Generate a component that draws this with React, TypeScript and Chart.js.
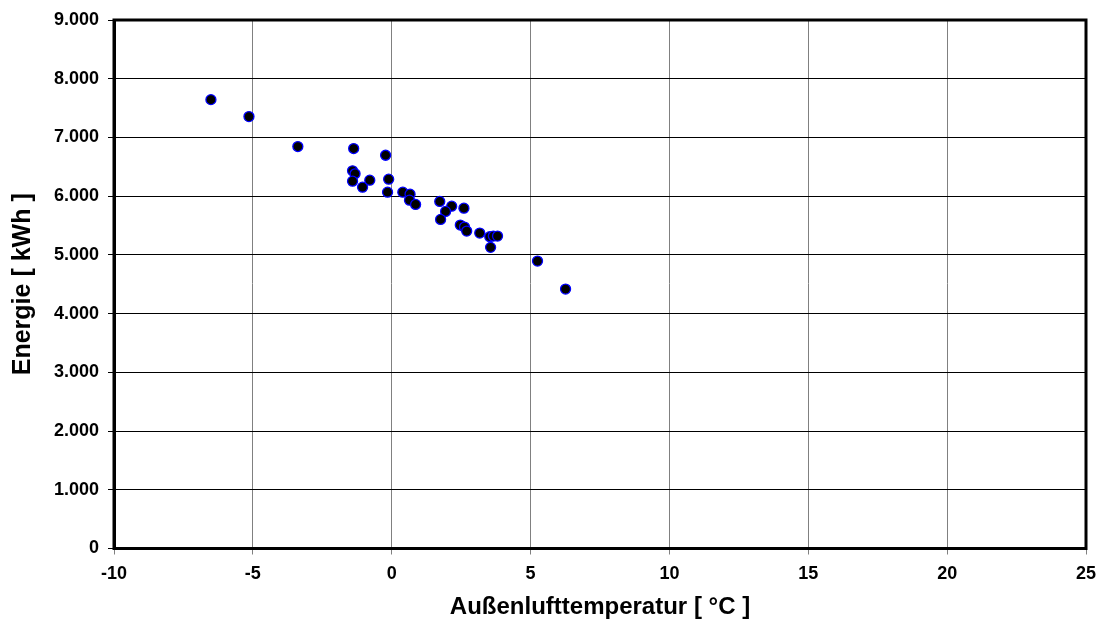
import React, { useEffect, useRef } from "react";
import { Chart, registerables } from "chart.js";

Chart.register(...registerables);

const temperatures = [
  -6.51, -5.14, -3.38, -1.37, -0.22, -1.41, -1.32, -1.41, -0.79, -1.05, -0.11,
  -0.15, 0.4, 0.66, 0.64, 0.86, 1.73, 2.16, 2.6, 1.94, 1.76, 2.47, 2.62, 2.7,
  3.17, 3.53, 3.66, 3.81, 3.56, 5.25, 6.26,
];
const energies = [
  7644, 7355, 6845, 6811, 6697, 6432, 6381, 6255, 6272, 6153, 6289, 6068, 6068,
  6034, 5932, 5859, 5910, 5830, 5796, 5740, 5604, 5507, 5473, 5405, 5371, 5310,
  5320, 5320, 5128, 4894, 4418,
];
const xTitle = "Außenlufttemperatur [ °C ]";
const yTitle = "Energie [ kWh ]";

const fmt = (v: number) => {
  const s = String(Math.round(v));
  return s.replace(/\B(?=(\d{3})+(?!\d))/g, ".");
};

const frame = {
  id: "frame",
  beforeDatasetsDraw(chart: any) {
    const { ctx, chartArea } = chart;
    ctx.save();
    ctx.strokeStyle = "#000";
    ctx.lineWidth = 3;
    ctx.strokeRect(
      chartArea.left,
      chartArea.top,
      chartArea.right - chartArea.left,
      chartArea.bottom - chartArea.top
    );
    ctx.restore();
  },
};

export default function App() {
  const ref = useRef<HTMLCanvasElement>(null);
  useEffect(() => {
    document.body.style.margin = "0";
    const font = "'Liberation Sans', Arial, sans-serif";
    const chart = new Chart(ref.current!, {
      type: "scatter",
      data: {
        datasets: [
          {
            data: temperatures.map((t, i) => ({ x: t, y: energies[i] })),
            backgroundColor: "#000",
            borderColor: "#0000ff",
            borderWidth: 1.3,
            pointRadius: 5,
          },
        ],
      },
      options: {
        animation: false,
        responsive: true,
        maintainAspectRatio: false,
        layout: { padding: { left: 0, right: 15, top: 20, bottom: 0 } },
        plugins: { legend: { display: false }, tooltip: { enabled: false } },
        scales: {
          x: {
            type: "linear",
            min: -10,
            max: 25,
            afterFit: (s: any) => {
              s.height = 626 - 548.5;
              s.paddingRight = 0;
              s.paddingLeft = 0;
            },
            ticks: {
              stepSize: 5,
              color: "#000",
              padding: 9,
              font: { family: font, size: 18, weight: "bold" },
            },
            grid: { color: "#808080", lineWidth: 1, tickLength: 6 },
            border: { display: true, color: "#000", width: 3 },
            title: {
              display: true,
              text: xTitle,
              color: "#000",
              font: { family: font, size: 24, weight: "bold", lineHeight: 1.2 },
              padding: { top: 0, bottom: 4 },
            },
          },
          y: {
            type: "linear",
            min: 0,
            max: 9000,
            afterFit: (s: any) => {
              s.width = 114;
              s.paddingTop = 0;
              s.paddingBottom = 0;
            },
            ticks: {
              stepSize: 1000,
              color: "#000",
              padding: 9,
              callback: (v: any) => fmt(Number(v)),
              font: { family: font, size: 18, weight: "bold" },
            },
            grid: { color: "#000", lineWidth: 1, tickLength: 6 },
            border: { display: true, color: "#000", width: 3 },
            title: {
              display: true,
              text: yTitle,
              color: "#000",
              font: { family: font, size: 25, weight: "bold", lineHeight: 1.2 },
              padding: { top: 8, bottom: 0 },
            },
          },
        },
      },
      plugins: [frame],
    });
    return () => chart.destroy();
  }, []);
  return (
    <div style={{ position: "absolute", left: 0, top: 0, width: 1101, height: 626 }}>
      <canvas ref={ref} />
    </div>
  );
}
